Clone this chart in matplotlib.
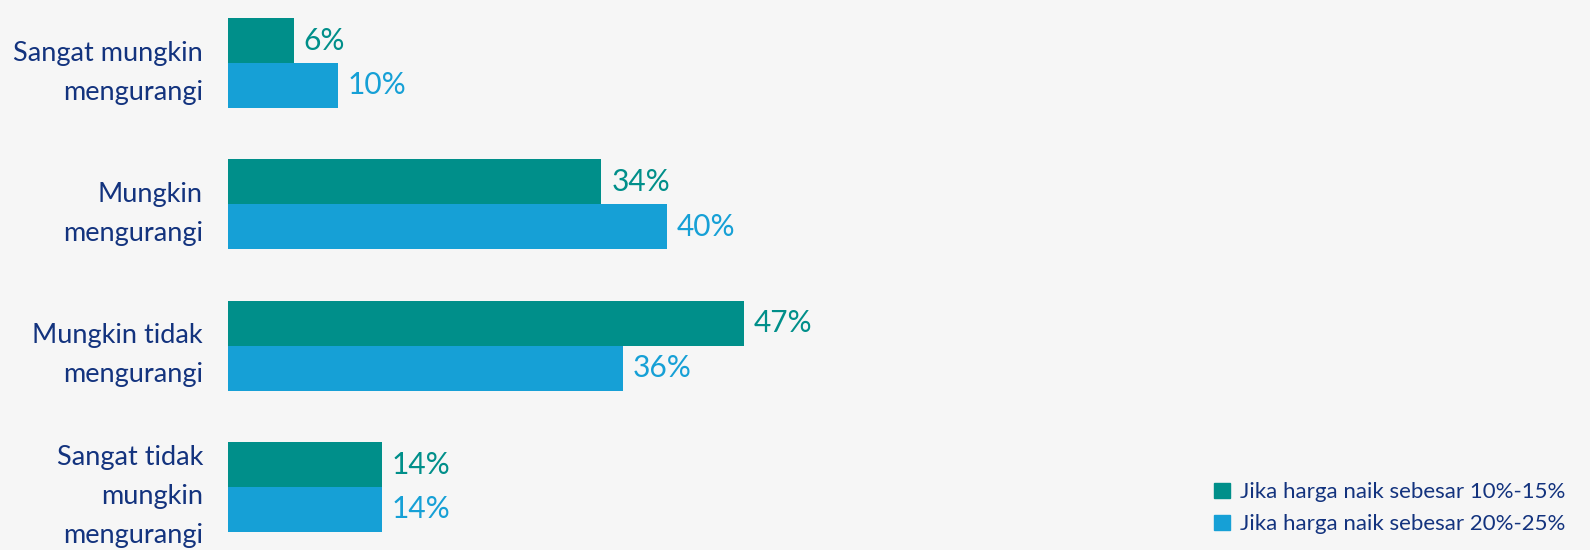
import numpy as np
import matplotlib.pyplot as plt
from matplotlib.patches import Patch

# data
categories = ['Sangat mungkin\nmengurangi', 'Mungkin\nmengurangi',
              'Mungkin tidak\nmengurangi', 'Sangat tidak\nmungkin\nmengurangi']
series_names = ['Jika harga naik sebesar 10%-15%', 'Jika harga naik sebesar 20%-25%']
vals_10_15 = [6, 34, 47, 14]
vals_20_25 = [10, 40, 36, 14]

teal = '#008f8a'
blue = '#16a0d6'
navy = '#13337e'
bg = '#f6f6f6'

plt.rcParams['font.family'] = ['Lato', 'DejaVu Sans']

fig = plt.figure(figsize=(15.9, 5.5), dpi=100, facecolor=bg)
ax = fig.add_axes([228 / 1590, 0, 1 - 228 / 1590, 1])
ax.set_facecolor(bg)

y = np.arange(len(categories))
h = 0.318
b1 = ax.barh(y - h / 2, vals_10_15, height=h, color=teal)
b2 = ax.barh(y + h / 2, vals_20_25, height=h, color=blue)

ax.set_xlim(0, 124)
ax.set_ylim(3.446, -0.446)

for bars, vals, c in [(b1, vals_10_15, teal), (b2, vals_20_25, blue)]:
    for bar, v in zip(bars, vals):
        ax.annotate(f'{v}%', (bar.get_width(), bar.get_y() + bar.get_height() / 2),
                    xytext=(7, 0), textcoords='offset points', va='center', ha='left',
                    fontsize=21.5, color=c)

ax.set_yticks(y)
ax.set_yticklabels(categories, fontsize=19.5, color=navy, linespacing=1.7)
ax.tick_params(axis='y', length=0, pad=18)
ax.set_xticks([])
for s in ax.spines.values():
    s.set_visible(False)

handles = [Patch(color=teal), Patch(color=blue)]
fig.legend(handles, series_names, loc='lower right', bbox_to_anchor=(0.997, -0.008),
           frameon=False, fontsize=16, labelcolor=navy, handlelength=0.7,
           handleheight=0.7, handletextpad=0.45, labelspacing=0.55)

fig.savefig('out.png', dpi=100, facecolor=bg)
